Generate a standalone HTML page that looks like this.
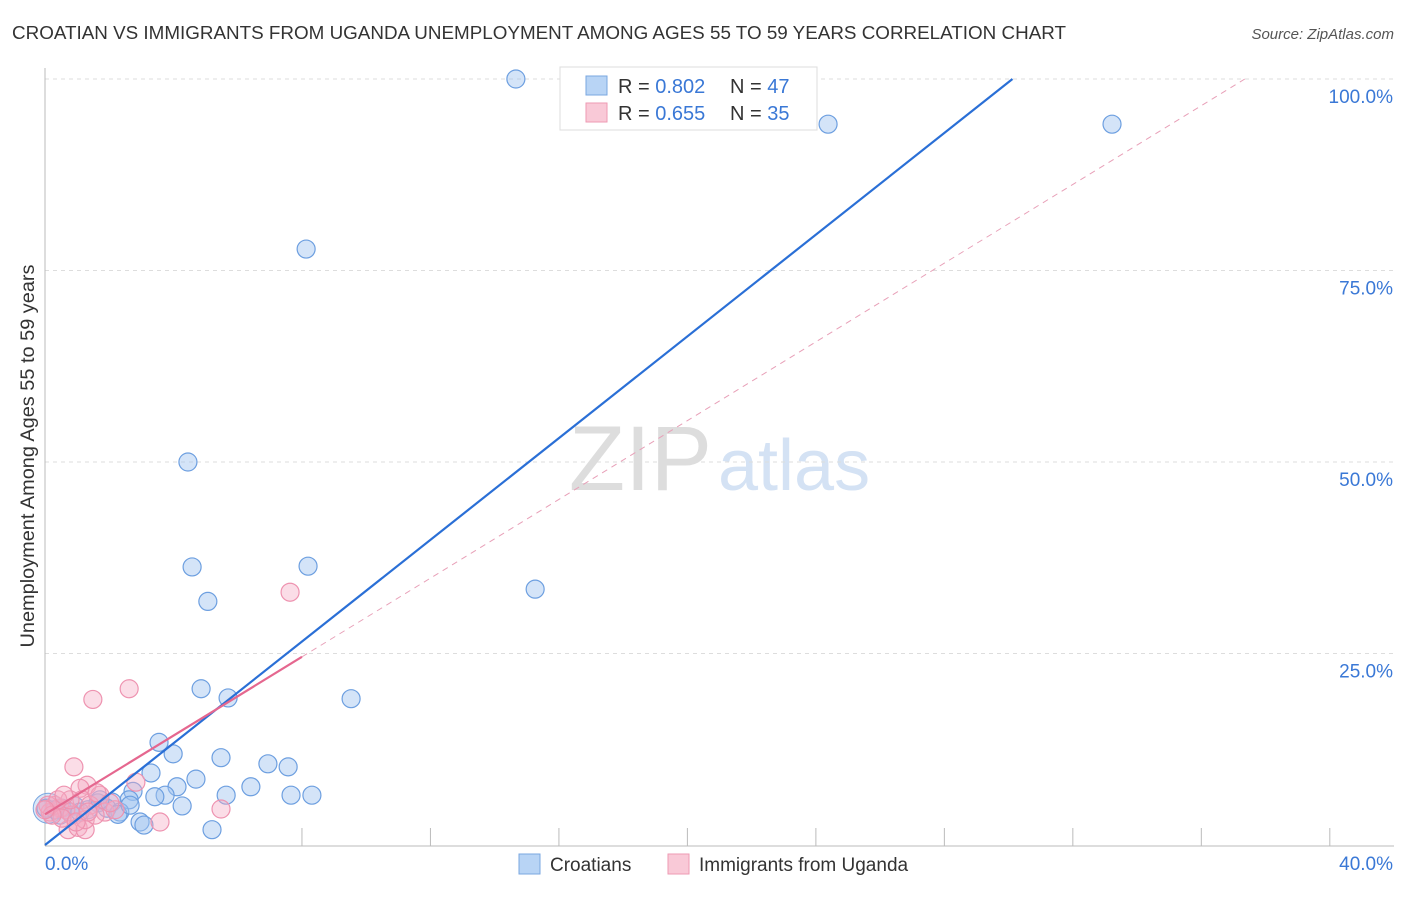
<!DOCTYPE html>
<html><head><meta charset="utf-8"><style>
body{margin:0;background:#fff;font-family:"Liberation Sans",sans-serif}
svg text{font-family:"Liberation Sans",sans-serif}
</style></head><body>
<svg id="c" width="1406" height="892">
<text x="12" y="39" font-size="18" fill="#333" textLength="1054" lengthAdjust="spacingAndGlyphs">CROATIAN VS IMMIGRANTS FROM UGANDA UNEMPLOYMENT AMONG AGES 55 TO 59 YEARS CORRELATION CHART</text>
<text x="1394" y="39" font-size="15" fill="#555" font-style="italic" text-anchor="end">Source: ZipAtlas.com</text>
<text x="712" y="490" font-size="92" fill="#ddd" text-anchor="end" font-family="Liberation Serif">ZIP</text>
<text x="718" y="490" font-size="72" fill="#d4e2f4">atlas</text>
<text transform="translate(34,456) rotate(-90)" font-size="19" fill="#333" text-anchor="middle" textLength="383" lengthAdjust="spacingAndGlyphs">Unemployment Among Ages 55 to 59 years</text>
<g id="grid"></g><g id="marks"></g>
<g>
<rect x="560" y="67" width="257" height="63" fill="#fff" stroke="#ddd"/>
<rect x="586" y="76" width="21" height="19" fill="#b8d4f5" stroke="#7aa7e0"/>
<rect x="586" y="103" width="21" height="19" fill="#f9c9d7" stroke="#ee9ab3"/>
<text x="618" y="93" font-size="20" fill="#333">R = <tspan fill="#3a78d6">0.802</tspan></text>
<text x="730" y="93" font-size="20" fill="#333">N = <tspan fill="#3a78d6">47</tspan></text>
<text x="618" y="120" font-size="20" fill="#333">R = <tspan fill="#3a78d6">0.655</tspan></text>
<text x="730" y="120" font-size="20" fill="#333">N = <tspan fill="#3a78d6">35</tspan></text>
</g>
<g>
<rect x="519" y="854" width="21" height="20" fill="#b8d4f5" stroke="#7aa7e0"/>
<text x="550" y="871" font-size="19" fill="#333">Croatians</text>
<rect x="668" y="854" width="21" height="20" fill="#f9c9d7" stroke="#ee9ab3"/>
<text x="699" y="871" font-size="19" fill="#333">Immigrants from Uganda</text>
</g>
</svg>
<script>
const blueX=[14.66,24.38,33.22,8.13,4.45,4.58,8.19,5.07,15.26,4.86,5.70,9.53,3.55,3.99,5.48,6.94,7.57,3.30,4.70,4.11,2.74,6.41,3.74,3.42,5.64,7.66,8.31,4.27,2.62,2.09,1.65,1.93,2.33,1.34,0.93,0.53,2.96,3.08,5.20,2.27,0.78,0.31,0.03,1.71,1.09,2.65,0.47];
const blueY=[100,94.1,94.1,77.8,50.0,36.3,36.4,31.8,33.4,20.4,19.2,19.1,13.4,11.9,11.4,10.6,10.2,9.4,8.6,7.6,7.0,7.6,6.5,6.3,6.5,6.5,6.5,5.1,5.9,5.6,5.5,4.8,4.3,4.6,5.1,4.8,3.0,2.6,2.0,4.0,4.3,4.6,4.8,5.9,4.3,5.2,3.9];
const pinkX=[7.63,2.62,1.49,0.90,1.31,1.09,1.71,0.47,0.16,0.31,0.65,0.84,1.15,1.40,1.62,2.83,0.72,1.03,1.25,3.58,5.48,1.25,0.53,1.87,2.18,0.78,0.09,0.22,0.40,0.97,1.56,2.02,0.59,0,1.34];
const pinkY=[33.0,20.4,19.0,10.2,7.8,7.4,6.5,4.8,4.3,5.2,4.6,3.9,5.9,5.2,6.8,8.2,2.0,2.3,2.0,3.0,4.7,3.3,3.5,4.3,4.6,5.9,5.2,3.9,5.9,3.0,3.9,5.5,6.5,4.6,4.3];
const yTicks=[25,50,75,100];
const yTickLabels=["25.0%","50.0%","75.0%","100.0%"];
const xTicks=[8,12,16,20,24,28,32,36,40];
const blueFit=[0,3.32];const pinkFit=[4,2.57];
const X=v=>45+v*32.12, Y=v=>845-v*7.66;
const NS="http://www.w3.org/2000/svg";
function mk(t,a,p){const e=document.createElementNS(NS,t);for(const k in a)e.setAttribute(k,a[k]);p.appendChild(e);return e;}
const g=document.getElementById('grid'),m=document.getElementById('marks');
yTicks.forEach((t,i)=>{
 const l=mk('line',{x1:45,x2:1394,y1:Y(t),y2:Y(t),stroke:'#ddd','stroke-dasharray':'4,4'},g);
 
 
 const tx=mk('text',{x:1393,y:Y(t)+24,'font-size':19,fill:'#3a78d6','text-anchor':'end'},g);tx.textContent=yTickLabels[i];
 
 
});
const ax=mk('line',{x1:45,x2:45,y1:68,y2:846,stroke:'#bbb'},g);


const bx=mk('line',{x1:45,x2:1394,y1:846,y2:846,stroke:'#bbb'},g);


xTicks.forEach(t=>{const l=mk('line',{x1:X(t),x2:X(t),y1:828,y2:846,stroke:'#bbb'},g);
 
 });
[[0,"0.0%","start",45],[40,"40.0%","end",1393]].forEach(d=>{const tx=mk('text',{x:d[3],y:870,'font-size':19,fill:'#3a78d6','text-anchor':d[2]},g);tx.textContent=d[1];
 
 });
const big1=mk('circle',{cx:X(0.1),cy:Y(4.8),r:15,fill:'rgba(150,185,235,0.35)',stroke:'#7aa7e0'},m);


blueX.forEach((v,i)=>{const c=mk('circle',{cx:X(v),cy:Y(blueY[i]),r:9,fill:'rgba(160,195,240,0.45)',stroke:'#6d9fe0','stroke-width':1.2},m);
 
 });
pinkX.forEach((v,i)=>{const c=mk('circle',{cx:X(v),cy:Y(pinkY[i]),r:9,fill:'rgba(245,170,195,0.4)',stroke:'#ee93b0','stroke-width':1.2},m);
 
 });
const pd=mk('line',{x1:X(8),y1:Y(pinkFit[0]+pinkFit[1]*8),x2:X((100-pinkFit[0])/pinkFit[1]),y2:Y(100),stroke:'#e8a0b8','stroke-dasharray':'6,5'},m);


const bl=mk('line',{x1:X(0),y1:Y(blueFit[0]),x2:X((100-blueFit[0])/blueFit[1]),y2:Y(100),stroke:'#2a6fd6','stroke-width':2.2},m);


const pl=mk('line',{x1:X(0),y1:Y(pinkFit[0]),x2:X(8),y2:Y(pinkFit[0]+pinkFit[1]*8),stroke:'#e5678f','stroke-width':2.2},m);


</script>
</body></html>
